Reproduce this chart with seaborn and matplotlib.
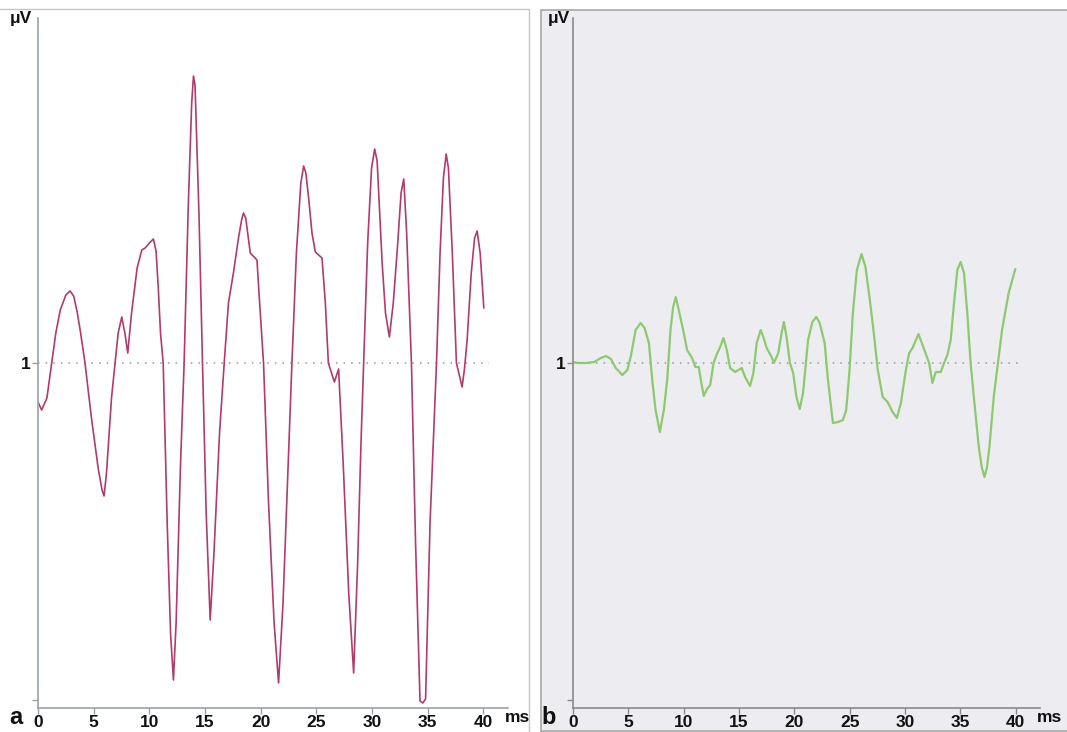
import matplotlib
matplotlib.use("Agg")
import matplotlib.pyplot as plt
import seaborn as sns
import pandas as pd
from matplotlib.patches import Rectangle

# ---------------- data ----------------
t_a = [0.00, 0.33, 0.8, 1.23, 1.6, 2.0, 2.5, 2.88, 3.2, 3.5, 3.8, 4.22, 4.8, 5.4, 5.75, 5.93,
       6.15, 6.6, 6.92, 7.2, 7.52, 7.8, 8.06, 8.4, 8.9, 9.32, 9.62, 10.0, 10.36, 10.6, 10.8,
       11.0, 11.24, 11.6, 11.9, 12.16, 12.4, 12.8, 13.12, 13.5, 13.8, 13.96, 14.1, 14.45,
       14.77, 15.1, 15.46, 15.8, 16.3, 16.72, 17.1, 17.56, 18.0, 18.3, 18.45, 18.65, 18.85,
       19.06, 19.66, 19.9, 20.25, 20.7, 21.2, 21.60, 22.0, 22.4, 22.80, 23.2, 23.6, 23.85,
       24.05, 24.3, 24.6, 24.90, 25.50, 25.8, 26.07, 26.61, 26.99, 27.4, 27.9, 28.34, 28.7,
       29.0, 29.24, 29.6, 29.95, 30.23, 30.45, 30.9, 31.2, 31.55, 31.9, 32.3, 32.6, 32.84,
       33.1, 33.53, 33.9, 34.3, 34.55, 34.8, 35.2, 35.78, 36.1, 36.4, 36.65, 36.85, 37.2,
       37.57, 38.08, 38.3, 38.53, 38.9, 39.2, 39.43, 39.7, 40.03]
v_a = [-0.39, -0.47, -0.35, 0.0, 0.30, 0.53, 0.68, 0.72, 0.67, 0.52, 0.32, 0.0, -0.55, -1.05,
       -1.27, -1.33, -1.10, -0.35, 0.0, 0.30, 0.46, 0.30, 0.10, 0.50, 0.95, 1.13, 1.15, 1.20,
       1.24, 1.12, 0.75, 0.3, 0.0, -1.6, -2.7, -3.17, -2.6, -1.0, 0.0, 1.6, 2.6, 2.87, 2.78,
       1.5, 0.0, -1.5, -2.57, -1.9, -0.7, 0.0, 0.6, 0.91, 1.25, 1.44, 1.50, 1.45, 1.28, 1.10,
       1.03, 0.6, 0.0, -1.4, -2.6, -3.20, -2.4, -1.2, 0.0, 1.1, 1.8, 1.97, 1.90, 1.65, 1.3,
       1.11, 1.05, 0.6, 0.0, -0.19, -0.06, -1.0, -2.3, -3.10, -2.0, -0.8, 0.0, 1.2, 1.95, 2.14,
       2.02, 1.0, 0.5, 0.26, 0.6, 1.2, 1.7, 1.84, 1.3, 0.0, -1.8, -3.38, -3.40, -3.36, -1.6,
       0.0, 1.1, 1.85, 2.09, 1.95, 1.1, 0.0, -0.24, -0.05, 0.23, 0.9, 1.25, 1.32, 1.1, 0.55]

t_b = [0.0, 0.42, 1.17, 1.92, 2.52, 2.97, 3.42, 3.86, 4.46, 4.91, 5.21, 5.66, 6.11, 6.47, 6.86,
       7.16, 7.46, 7.85, 8.21, 8.51, 8.81, 9.05, 9.29, 9.56, 10.01, 10.31, 10.76, 11.06, 11.36,
       11.60, 11.81, 12.11, 12.40, 12.70, 13.00, 13.30, 13.60, 13.90, 14.20, 14.65, 14.95,
       15.25, 15.55, 16.00, 16.30, 16.60, 16.96, 17.20, 17.50, 17.95, 18.16, 18.55, 18.85,
       19.06, 19.30, 19.60, 19.90, 20.19, 20.49, 20.79, 21.24, 21.63, 21.99, 22.29, 22.74,
       23.04, 23.49, 23.94, 24.39, 24.69, 24.99, 25.29, 25.65, 26.07, 26.43, 26.79, 27.15,
       27.54, 27.99, 28.43, 28.88, 29.27, 29.63, 30.08, 30.38, 30.68, 31.22, 31.52, 31.88,
       32.18, 32.48, 32.78, 33.23, 33.53, 33.83, 34.13, 34.43, 34.73, 35.03, 35.33, 35.63,
       35.93, 36.22, 36.67, 36.95, 37.18, 37.40, 37.63, 38.02, 38.32, 38.77, 39.37, 39.97]
v_b = [0.01, 0.00, 0.00, 0.01, 0.05, 0.07, 0.04, -0.05, -0.12, -0.07, 0.06, 0.33, 0.40, 0.35,
       0.20, -0.17, -0.47, -0.69, -0.47, -0.17, 0.33, 0.56, 0.66, 0.53, 0.30, 0.13, 0.05, -0.04,
       -0.04, -0.20, -0.33, -0.26, -0.22, 0.00, 0.09, 0.16, 0.25, 0.13, -0.05, -0.09, -0.07,
       -0.05, -0.14, -0.23, -0.10, 0.20, 0.33, 0.26, 0.15, 0.06, 0.00, 0.10, 0.30, 0.41, 0.26,
       0.00, -0.10, -0.34, -0.46, -0.30, 0.23, 0.41, 0.46, 0.40, 0.20, -0.17, -0.60, -0.59,
       -0.57, -0.47, -0.07, 0.50, 0.93, 1.09, 0.96, 0.66, 0.33, -0.07, -0.34, -0.39, -0.49,
       -0.55, -0.40, -0.07, 0.10, 0.15, 0.29, 0.20, 0.09, 0.00, -0.20, -0.09, -0.09, 0.00,
       0.08, 0.23, 0.60, 0.93, 1.01, 0.90, 0.50, 0.00, -0.34, -0.84, -1.05, -1.14, -1.05,
       -0.84, -0.34, -0.07, 0.33, 0.70, 0.94]

x_ticks = [0, 5, 10, 15, 20, 25, 30, 35, 40]
x_tick_labels = ["0", "5", "10", "15", "20", "25", "30", "35", "40"]
y_ticks = [0.0, -3.37]
y_tick_labels = ["1", ""]
panel_labels = ["a", "b"]
x_unit = "ms"
y_unit = "μV"

# ---------------- figure ----------------
sns.set_theme(style="white")
plt.rcParams["font.family"] = ["Liberation Sans", "DejaVu Sans"]

W, H = 1067, 732
fig = plt.figure(figsize=(W / 100, H / 100), dpi=100)
fig.patch.set_facecolor("white")


def fx(px):
    return px / W


def fy(py):
    return 1 - py / H


# panel backgrounds
fig.patches.append(Rectangle((fx(-2), fy(734)), fx(531), (734 - 9) / H, transform=fig.transFigure,
                             facecolor="white", edgecolor="#c4c4c4", lw=1.0, zorder=-10))
fig.patches.append(Rectangle((fx(541), fy(731)), fx(530), (731 - 10) / H, transform=fig.transFigure,
                             facecolor="#ededf1", edgecolor="#a8a8a8", lw=1.2, zorder=-10))

panels = [
    dict(t=t_a, v=v_a, color="#b23a6c", lw=1.2, left=38, right=508, label_x=8, uv_x=8,
         ms_x=504, dot_end=40.5, spine="#9aa2a8"),
    dict(t=t_b, v=v_b, color="#8dc96f", lw=1.6, left=573, right=1040, label_x=541, uv_x=546,
         ms_x=1036, dot_end=40.5, spine="#8a8a8a"),
]

top_px, bottom_px = 18, 708
ylim = ((363 - bottom_px) / 100, (363 - top_px) / 100)

for i, p in enumerate(panels):
    ax = fig.add_axes([fx(p["left"]), fy(bottom_px), (p["right"] - p["left"]) / W,
                       (bottom_px - top_px) / H])
    ax.set_zorder(5)
    ax.patch.set_alpha(0)
    df = pd.DataFrame({"t": p["t"], "v": p["v"]})
    sns.lineplot(data=df, x="t", y="v", ax=ax, color=p["color"], lw=p["lw"],
                 sort=False, estimator=None)
    for ln in ax.get_lines():
        ln.set_solid_joinstyle("round")
        ln.set_solid_capstyle("round")
    ax.plot([0, p["dot_end"]], [0, 0], ls=(0, (1, 4)), color="#999999", lw=1.1, zorder=1)
    ax.set_xlim(0, 42.2)
    ax.set_ylim(*ylim)
    for s in ["top", "right"]:
        ax.spines[s].set_visible(False)
    for s in ["left", "bottom"]:
        ax.spines[s].set_color(p["spine"])
        ax.spines[s].set_linewidth(1.2)
    ax.set_xticks(x_ticks)
    ax.set_xticklabels(x_tick_labels, fontsize=12.5, fontweight="bold")
    ax.set_yticks(y_ticks)
    ax.set_yticklabels(y_tick_labels, fontsize=12.5, fontweight="bold")
    ax.tick_params(axis="both", which="both", direction="out", length=4, width=1,
                   color=p["spine"], pad=1, labelcolor="#111111", bottom=True, left=True)
    ax.set_xlabel("")
    ax.set_ylabel("")
    fig.text(fx(p["label_x"] + 8), fy(718), panel_labels[i], fontsize=17, fontweight="bold",
             ha="center", va="center", color="#111111", zorder=6)
    fig.text(fx(p["ms_x"] + 14), fy(718), x_unit, fontsize=12.5, fontweight="bold",
             ha="center", va="center", color="#111111", zorder=6)
    fig.text(fx(p["uv_x"] + 13), fy(18), y_unit, fontsize=12.5, fontweight="bold",
             ha="center", va="center", color="#111111", zorder=6)

fig.savefig("out.png", dpi=100)
